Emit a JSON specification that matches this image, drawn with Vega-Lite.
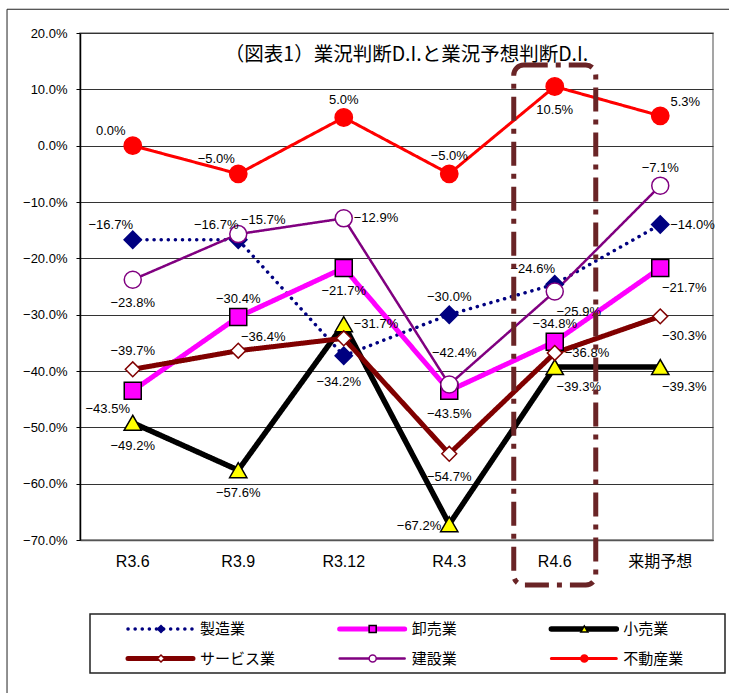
{
  "$schema": "https://vega.github.io/schema/vega-lite/v6.json",
  "width": 633,
  "height": 507,
  "autosize": "none",
  "padding": {"left": 80, "top": 33, "right": 16, "bottom": 153},
  "background": "white",
  "config": {
    "font": "Liberation Sans",
    "view": {"stroke": "#888", "strokeWidth": 1.5}
  },
  "title": {
    "text": "（図表1）業況判断D.I.と業況予想判断D.I.",
    "font": "Noto Sans CJK JP",
    "fontSize": 19.5,
    "fontWeight": "normal",
    "color": "black",
    "frame": "group",
    "anchor": "middle",
    "offset": -57,
    "dx": 10
  },
  "datasets": {
    "di": [
      {"period": "R3.6", "series": "製造業", "value": -0.167, "pos": "above-left"},
      {"period": "R3.9", "series": "製造業", "value": -0.167, "pos": "above-left"},
      {"period": "R3.12", "series": "製造業", "value": -0.373, "pos": "none"},
      {"period": "R4.3", "series": "製造業", "value": -0.300, "pos": "above"},
      {"period": "R4.6", "series": "製造業", "value": -0.246, "pos": "above-left"},
      {"period": "来期予想", "series": "製造業", "value": -0.140, "pos": "right"},
      {"period": "R3.6", "series": "卸売業", "value": -0.435, "pos": "below-left"},
      {"period": "R3.9", "series": "卸売業", "value": -0.304, "pos": "above"},
      {"period": "R3.12", "series": "卸売業", "value": -0.217, "pos": "below"},
      {"period": "R4.3", "series": "卸売業", "value": -0.435, "pos": "below"},
      {"period": "R4.6", "series": "卸売業", "value": -0.348, "pos": "above"},
      {"period": "来期予想", "series": "卸売業", "value": -0.217, "pos": "below-right"},
      {"period": "R3.6", "series": "小売業", "value": -0.492, "pos": "below"},
      {"period": "R3.9", "series": "小売業", "value": -0.576, "pos": "below"},
      {"period": "R3.12", "series": "小売業", "value": -0.317, "pos": "right"},
      {"period": "R4.3", "series": "小売業", "value": -0.672, "pos": "left"},
      {"period": "R4.6", "series": "小売業", "value": -0.393, "pos": "below-right"},
      {"period": "来期予想", "series": "小売業", "value": -0.393, "pos": "below-right"},
      {"period": "R3.6", "series": "サービス業", "value": -0.397, "pos": "above"},
      {"period": "R3.9", "series": "サービス業", "value": -0.364, "pos": "above-right"},
      {"period": "R3.12", "series": "サービス業", "value": -0.342, "pos": "below-far"},
      {"period": "R4.3", "series": "サービス業", "value": -0.547, "pos": "below"},
      {"period": "R4.6", "series": "サービス業", "value": -0.368, "pos": "right"},
      {"period": "来期予想", "series": "サービス業", "value": -0.303, "pos": "below-right"},
      {"period": "R3.6", "series": "建設業", "value": -0.238, "pos": "below"},
      {"period": "R3.9", "series": "建設業", "value": -0.157, "pos": "above-right"},
      {"period": "R3.12", "series": "建設業", "value": -0.129, "pos": "right"},
      {"period": "R4.3", "series": "建設業", "value": -0.424, "pos": "above-far"},
      {"period": "R4.6", "series": "建設業", "value": -0.259, "pos": "below-right"},
      {"period": "来期予想", "series": "建設業", "value": -0.071, "pos": "above"},
      {"period": "R3.6", "series": "不動産業", "value": 0.0, "pos": "above-left"},
      {"period": "R3.9", "series": "不動産業", "value": -0.050, "pos": "above-left"},
      {"period": "R3.12", "series": "不動産業", "value": 0.050, "pos": "above"},
      {"period": "R4.3", "series": "不動産業", "value": -0.050, "pos": "above"},
      {"period": "R4.6", "series": "不動産業", "value": 0.105, "pos": "below"},
      {"period": "来期予想", "series": "不動産業", "value": 0.053, "pos": "above-right"}
    ],
    "legend": [
      {"series": "製造業", "col": 0, "row": 0},
      {"series": "卸売業", "col": 1, "row": 0},
      {"series": "小売業", "col": 2, "row": 0},
      {"series": "サービス業", "col": 0, "row": 1},
      {"series": "建設業", "col": 1, "row": 1},
      {"series": "不動産業", "col": 2, "row": 1}
    ]
  },
  "layer": [
    {
      "data": {"name": "di"},
      "layer": [
        {
          "mark": {"type": "line", "strokeCap": "round", "strokeJoin": "round"},
          "encoding": {
            "x": {
              "field": "period",
              "type": "nominal",
              "scale": {"type": "band", "domain": ["R3.6", "R3.9", "R3.12", "R4.3", "R4.6", "来期予想"], "paddingInner": 0, "paddingOuter": 0},
              "axis": {"title": null, "labelAngle": 0, "ticks": false, "domainColor": "#555", "domainWidth": 1.5, "labelPadding": 13, "labelFontSize": 16, "labelColor": "black", "labelFont": "Liberation Sans, Noto Sans CJK JP", "grid": false}
            },
            "y": {
              "field": "value",
              "type": "quantitative",
              "scale": {"domain": [-0.7, 0.2], "nice": false, "zero": false},
              "axis": {"title": null, "values": [-0.7, -0.6, -0.5, -0.4, -0.3, -0.2, -0.1, 0, 0.1, 0.2], "format": ".1%", "grid": true, "gridColor": "#333", "gridWidth": 1, "domainColor": "black", "domainWidth": 1.5, "tickColor": "black", "tickSize": 4, "labelPadding": 9, "labelFontSize": 13, "labelColor": "black"}
            },
            "color": {"field": "series", "type": "nominal", "legend": null, "scale": {"domain": ["製造業", "卸売業", "小売業", "サービス業", "建設業", "不動産業"], "range": ["#000080", "#ff00ff", "#000000", "#800000", "#800080", "#ff0000"]}},
            "strokeWidth": {"field": "series", "type": "nominal", "legend": null, "scale": {"type": "ordinal", "domain": ["製造業", "卸売業", "小売業", "サービス業", "建設業", "不動産業"], "range": [3.5, 5, 5.5, 5, 2.5, 3]}},
            "strokeDash": {"field": "series", "type": "nominal", "legend": null, "scale": {"type": "ordinal", "domain": ["製造業", "卸売業", "小売業", "サービス業", "建設業", "不動産業"], "range": [[0.1, 7], [1, 0], [1, 0], [1, 0], [1, 0], [1, 0]]}}
          }
        },
        {
          "mark": {"type": "point", "filled": true, "strokeWidth": 1.5, "opacity": 1},
          "encoding": {
            "x": {"field": "period", "type": "nominal"},
            "y": {"field": "value", "type": "quantitative"},
            "shape": {"field": "series", "type": "nominal", "legend": null, "scale": {"domain": ["製造業", "卸売業", "小売業", "サービス業", "建設業", "不動産業"], "range": ["diamond", "square", "triangle-up", "diamond", "circle", "circle"]}},
            "fill": {"field": "series", "type": "nominal", "legend": null, "scale": {"domain": ["製造業", "卸売業", "小売業", "サービス業", "建設業", "不動産業"], "range": ["#000080", "#ff00ff", "#ffff00", "#ffffff", "#ffffff", "#ff0000"]}},
            "stroke": {"field": "series", "type": "nominal", "legend": null, "scale": {"domain": ["製造業", "卸売業", "小売業", "サービス業", "建設業", "不動産業"], "range": ["#000080", "#000000", "#000000", "#800000", "#800080", "#ff0000"]}},
            "size": {"field": "series", "type": "nominal", "legend": null, "scale": {"type": "ordinal", "domain": ["製造業", "卸売業", "小売業", "サービス業", "建設業", "不動産業"], "range": [300, 289, 300, 220, 289, 300]}}
          }
        },
        {
          "layer": [
            {
              "transform": [{"filter": "datum.pos === 'above'"}],
              "mark": {"type": "text", "dx": 0, "dy": -18, "fontSize": 13, "color": "black"}
            },
            {
              "transform": [{"filter": "datum.pos === 'above-far'"}],
              "mark": {"type": "text", "dx": 5, "dy": -32, "fontSize": 13, "color": "black"}
            },
            {
              "transform": [{"filter": "datum.pos === 'below'"}],
              "mark": {"type": "text", "dx": 0, "dy": 23, "fontSize": 13, "color": "black"}
            },
            {
              "transform": [{"filter": "datum.pos === 'below-far'"}],
              "mark": {"type": "text", "dx": -5, "dy": 44, "fontSize": 13, "color": "black"}
            },
            {
              "transform": [{"filter": "datum.pos === 'left'"}],
              "mark": {"type": "text", "align": "right", "dx": -8, "dy": 2, "fontSize": 13, "color": "black"}
            },
            {
              "transform": [{"filter": "datum.pos === 'right'"}],
              "mark": {"type": "text", "align": "left", "dx": 10, "dy": 0, "fontSize": 13, "color": "black"}
            },
            {
              "transform": [{"filter": "datum.pos === 'above-left'"}],
              "mark": {"type": "text", "dx": -22, "dy": -15, "fontSize": 13, "color": "black"}
            },
            {
              "transform": [{"filter": "datum.pos === 'above-right'"}],
              "mark": {"type": "text", "dx": 25, "dy": -14, "fontSize": 13, "color": "black"}
            },
            {
              "transform": [{"filter": "datum.pos === 'below-left'"}],
              "mark": {"type": "text", "dx": -25, "dy": 18, "fontSize": 13, "color": "black"}
            },
            {
              "transform": [{"filter": "datum.pos === 'below-right'"}],
              "mark": {"type": "text", "dx": 24, "dy": 20, "fontSize": 13, "color": "black"}
            }
          ],
          "encoding": {
            "x": {"field": "period", "type": "nominal"},
            "y": {"field": "value", "type": "quantitative"},
            "text": {"field": "value", "type": "quantitative", "format": ".1%"}
          }
        },
        {
          "data": {"values": [{"target": "R4.6", "top": 0.143, "bottom": -0.78}]},
          "mark": {"type": "rect", "fill": "transparent", "stroke": "#6a2426", "strokeWidth": 5, "strokeDash": [24, 8, 5, 8], "cornerRadius": 10, "width": 82, "clip": false},
          "encoding": {
            "x": {"field": "target", "type": "nominal"},
            "y": {"field": "top", "type": "quantitative"},
            "y2": {"field": "bottom"}
          }
        }
      ]
    },
    {
      "data": {"name": "legend"},
      "layer": [
        {
          "data": {"values": [{"left": 0, "right": 3, "top": 0, "bottom": 2}]},
          "mark": {"type": "rect", "fill": "transparent", "stroke": "#222", "strokeWidth": 1.5},
          "encoding": {
            "x": {"field": "left", "type": "quantitative", "scale": {"domain": [0, 3], "range": [10, 645], "nice": false, "zero": false}, "axis": null},
            "x2": {"field": "right"},
            "y": {"field": "top", "type": "quantitative", "scale": {"domain": [0, 2], "range": [581, 640], "nice": false, "zero": false}, "axis": null},
            "y2": {"field": "bottom"}
          }
        },
        {
          "data": {"values": [{"left": -0.392, "right": 3.3, "top": -20.5, "bottom": 3.5}]},
          "mark": {"type": "rect", "fill": "transparent", "stroke": "#222", "strokeWidth": 1, "clip": false},
          "encoding": {
            "x": {"field": "left", "type": "quantitative", "axis": null},
            "x2": {"field": "right"},
            "y": {"field": "top", "type": "quantitative", "axis": null},
            "y2": {"field": "bottom"}
          }
        },
        {
          "mark": {"type": "rule", "xOffset": 38, "x2Offset": 103, "yOffset": 15, "strokeCap": "round"},
          "encoding": {
            "x": {"field": "col", "type": "quantitative", "axis": null},
            "x2": {"field": "col"},
            "y": {"field": "row", "type": "quantitative", "axis": null},
            "color": {"field": "series", "type": "nominal", "legend": null},
            "strokeWidth": {"field": "series", "type": "nominal", "legend": null, "scale": {"type": "ordinal", "domain": ["製造業", "卸売業", "小売業", "サービス業", "建設業", "不動産業"], "range": [3.5, 5, 5.5, 5, 2.5, 3]}},
            "strokeDash": {"field": "series", "type": "nominal", "legend": null, "scale": {"type": "ordinal", "domain": ["製造業", "卸売業", "小売業", "サービス業", "建設業", "不動産業"], "range": [[0.1, 7], [1, 0], [1, 0], [1, 0], [1, 0], [1, 0]]}}
          }
        },
        {
          "mark": {"type": "point", "filled": true, "strokeWidth": 1.5, "opacity": 1, "size": 50, "xOffset": 71, "yOffset": 15},
          "encoding": {
            "x": {"field": "col", "type": "quantitative", "axis": null},
            "y": {"field": "row", "type": "quantitative", "axis": null},
            "shape": {"field": "series", "type": "nominal", "legend": null},
            "fill": {"field": "series", "type": "nominal", "legend": null},
            "stroke": {"field": "series", "type": "nominal", "legend": null}
          }
        },
        {
          "mark": {"type": "text", "align": "left", "baseline": "middle", "xOffset": 110, "yOffset": 15, "font": "Noto Sans CJK JP", "fontSize": 15, "color": "black"},
          "encoding": {
            "x": {"field": "col", "type": "quantitative", "axis": null},
            "y": {"field": "row", "type": "quantitative", "axis": null},
            "text": {"field": "series", "type": "nominal"}
          }
        }
      ]
    }
  ],
  "resolve": {"scale": {"x": "independent", "y": "independent"}}
}
